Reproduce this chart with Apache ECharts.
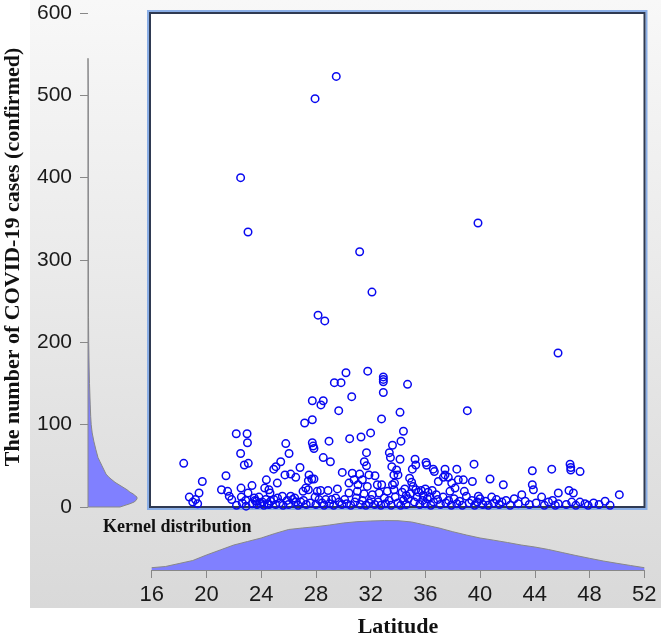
<!DOCTYPE html>
<html><head><meta charset="utf-8">
<script src="https://cdn.jsdelivr.net/npm/echarts@6/dist/echarts.min.js"></script>
<style>html,body{margin:0;padding:0;background:#fff}#c{width:661px;height:637px}</style>
</head><body><div id="c"></div>
<script>
// ---- scatter data: latitude vs confirmed cases ----
const latitude = [
29.49,27.94,22.50,23.04,39.85,31.20,32.10,28.16,28.65,45.70,
30.20,31.79,32.93,32.93,32.93,29.35,29.84,32.93,30.62,27.74,
28.54,28.37,29.67,34.15,39.07,34.70,32.80,27.74,27.18,32.00,
31.30,30.47,28.96,27.74,27.80,27.86,22.18,22.97,23.00,22.50,
22.77,23.06,18.34,25.80,26.04,28.54,29.06,31.70,31.54,31.70,
33.60,33.37,34.40,34.22,34.15,33.45,33.55,33.70,33.75,33.60,
33.90,34.00,35.25,35.30,36.05,36.10,35.05,36.58,36.66,37.44,
38.30,39.56,36.95,37.32,37.44,37.68,37.93,38.41,38.78,39.44,
40.73,41.70,43.82,45.24,46.58,46.63,46.63,47.31,43.82,43.90,
45.72,46.50,46.82,50.18,49.14,49.50,47.30,47.67,47.90,46.70,
43.05,44.50,45.00,45.72,38.85,39.88,38.17,37.80,19.70,21.43,
18.75,19.46,19.00,19.36,19.20,21.10,21.55,21.67,21.85,22.53,
23.33,22.55,22.87,22.62,23.04,23.50,23.65,23.35,24.38,24.26,
24.57,24.65,25.18,24.92,25.08,25.43,25.74,26.16,26.53,26.84,
25.55,26.16,26.45,25.90,26.53,26.90,27.50,27.70,27.86,27.45,
27.26,27.06,27.45,28.10,28.35,28.89,29.57,27.94,28.23,28.72,
29.16,29.45,29.93,30.66,31.20,30.79,31.40,31.88,32.32,30.42,
31.08,31.76,32.49,32.81,30.42,31.03,31.52,32.13,32.62,33.22,
33.71,23.55,23.70,23.84,23.95,24.09,24.20,24.33,24.45,24.57,
24.70,24.94,25.06,25.20,25.35,25.60,26.00,26.30,26.70,27.10,
27.30,27.60,28.00,28.45,28.60,29.00,29.30,29.70,29.90,30.10,
30.25,30.55,30.85,30.95,31.25,31.40,31.65,31.90,32.05,32.30,
32.55,32.75,33.00,33.10,33.35,33.50,33.80,34.00,34.20,34.40,
34.60,35.00,35.10,34.85,35.30,35.50,35.70,35.85,36.00,36.20,
36.35,36.50,36.80,34.30,34.50,34.60,34.75,34.90,35.20,35.40,
35.60,35.80,36.00,36.15,36.40,36.60,36.90,37.10,37.30,37.50,
37.70,37.90,38.10,38.30,38.50,38.70,39.00,39.20,39.40,39.60,
39.80,40.00,40.20,40.40,40.60,40.85,41.00,41.20,41.40,41.60,
41.90,42.20,42.50,42.80,43.30,43.60,44.10,44.70,45.30,45.50,
46.30,47.00,48.30,48.70,22.20,22.90
];
const cases = [
523,496,400,334,345,310,261,233,226,187,
163,165,158,155,152,151,151,139,134,129,
129,124,117,115,117,149,107,106,102,90,
85,83,80,78,74,71,89,89,78,65,
51,53,53,77,65,60,55,66,55,50,
75,66,92,80,58,60,49,39,29,27,
45,39,58,51,54,51,46,46,43,46,
46,52,31,36,39,36,29,33,33,31,
34,27,44,46,52,48,45,43,27,21,
17,20,17,15,7,2,6,4,2,6,
15,12,6,4,19,13,23,19,31,38,
12,17,6,4,9,21,19,13,9,23,
26,12,8,5,17,11,7,4,33,23,
21,17,29,46,49,55,39,40,36,48,
13,13,11,8,6,6,39,34,34,32,
23,19,21,19,20,20,22,12,9,9,
9,11,42,41,40,33,33,39,38,29,
27,25,27,27,17,19,16,15,17,19,
21,8,3,12,5,6,2,9,4,3,
7,9,3,11,5,2,3,9,2,8,
3,5,3,5,2,4,2,6,3,9,
4,2,6,11,3,8,2,5,9,3,
6,2,11,4,8,2,12,5,2,8,
3,30,25,35,21,18,20,14,22,18,
12,20,15,18,22,14,10,16,6,12,
3,8,4,10,2,6,9,3,12,5,
8,2,10,4,7,2,13,5,8,2,
6,10,3,7,2,12,5,9,3,6,
8,2,10,4,7,3,5,2,8,2,
3,2,5,3,2,1
];

// ---- kernel density of latitude (bottom) ----
const latGrid = [16,17,18,19,20,21,22,23,24,25,26,27,28,29,30,31,32,33,34,35,36,37,38,39,40,41,42,43,44,45,46,47,48,49,50,51,52];
const latDensity = [0.0023,0.0035,0.0065,0.0095,0.0150,0.0200,0.0250,0.0285,0.0320,0.0365,0.0405,0.0420,0.0433,0.0450,0.0470,0.0483,0.0490,0.0494,0.0493,0.0480,0.0450,0.0420,0.0383,0.0350,0.0320,0.0298,0.0275,0.0250,0.0230,0.0205,0.0175,0.0145,0.0117,0.0090,0.0067,0.0045,0.0023];

// ---- kernel density of cases (left) ----
const caseGrid = [0,2,4,6,8,10,12,14,16,18,21,24,27,30,33,36,40,45,50,55,60,70,80,90,100,110,125,150,170,200,230,260,300,340,400,500,545];
const caseDensity = [0.032,0.037,0.042,0.046,0.048,0.049,0.049,0.047,0.045,0.042,0.039,0.035,0.031,0.027,0.024,0.021,0.018,0.016,0.014,0.012,0.010,0.0078,0.0058,0.0042,0.0032,0.0027,0.0022,0.0015,0.0011,0.0007,0.0005,0.0004,0.0004,0.0004,0.0003,0.0003,0];

const xTitle = 'Latitude';
const yTitle = 'The number of COVID-19 cases (confirmed)';
const kdeLabel = 'Kernel distribution';

const chart = echarts.init(document.getElementById('c'), null, {renderer:'canvas'});
const scatterData = latitude.map((x,i)=>[x, cases[i]]);
const bottomData = latGrid.map((x,i)=>[x, latDensity[i]]);
const leftData = caseGrid.map((y,i)=>[caseDensity[i], y]);

const labelFont = {fontFamily:'Liberation Sans', color:'#1a1a1a'};
const option = {
  animation:false,
  graphic:[
    {type:'rect', z:-100, silent:true, shape:{x:30,y:0,width:631,height:608},
     style:{fill:new echarts.graphic.LinearGradient(0,0,0,1,[{offset:0,color:'#f8f8f8'},{offset:1,color:'#d9d9d9'}])}},
    {type:'rect', z:-50, silent:true, shape:{x:148,y:11,width:498.5,height:498},
     style:{fill:'none', stroke:'#8aaee6', lineWidth:2}},
    {type:'text', z:100, x:13, y:257, rotation:Math.PI/2,
     style:{text:yTitle, font:'bold 22px "Liberation Serif"', fill:'#111', textAlign:'center', textVerticalAlign:'middle'}},
    {type:'text', z:100, x:398, y:627,
     style:{text:xTitle, font:'bold 22px "Liberation Serif"', fill:'#111', textAlign:'center', textVerticalAlign:'middle'}},
    {type:'text', z:100, x:103, y:527,
     style:{text:kdeLabel, font:'bold 18px "Liberation Serif"', fill:'#111', textAlign:'left', textVerticalAlign:'middle'}}
  ],
  grid:[
    {left:150, top:13, width:494.5, height:494, show:true, backgroundColor:'#fff', borderColor:'#2f3a52', borderWidth:2},
    {left:88, top:13, width:60, height:494},
    {left:151.7, top:510, width:492.6, height:60}
  ],
  xAxis:[
    {gridIndex:0, type:'value', min:15.876, max:52.02, show:false},
    {gridIndex:1, type:'value', min:0, max:0.06, show:false},
    {gridIndex:2, type:'value', min:16, max:52, interval:4,
     axisLine:{show:true, lineStyle:{color:'#888'}},
     axisTick:{show:true, length:8, lineStyle:{color:'#888'}},
     axisLabel:Object.assign({margin:14, fontSize:22}, labelFont),
     splitLine:{show:false}}
  ],
  yAxis:[
    {gridIndex:0, type:'value', min:0, max:600, show:false},
    {gridIndex:1, type:'value', min:0, max:600, interval:100,
     axisLine:{show:false},
     axisTick:{show:true, length:8, lineStyle:{color:'#888'}},
     axisLabel:Object.assign({margin:16, fontSize:21}, labelFont),
     splitLine:{show:false}},
    {gridIndex:2, type:'value', min:0, max:0.06, show:false}
  ],
  series:[
    {type:'scatter', xAxisIndex:0, yAxisIndex:0, data:scatterData, symbol:'circle', symbolSize:7.5,
     itemStyle:{color:'rgba(0,0,0,0)', borderColor:'#0808f0', borderWidth:1.5, opacity:1}, silent:true},
    {type:'custom', xAxisIndex:1, yAxisIndex:1, data:[0], silent:true,
     renderItem:function(params, api){
       const pts = [api.coord([0,0])];
       leftData.forEach(d=>pts.push(api.coord(d)));
       return {type:'polygon', shape:{points:pts}, style:{fill:'#8080ff', stroke:'#888', lineWidth:1}};
     }},
    {type:'line', xAxisIndex:2, yAxisIndex:2, data:bottomData, symbol:'none', silent:true,
     lineStyle:{color:'#888', width:1}, areaStyle:{color:'#8080ff', opacity:1}}
  ]
};
chart.setOption(option);
</script></body></html>
